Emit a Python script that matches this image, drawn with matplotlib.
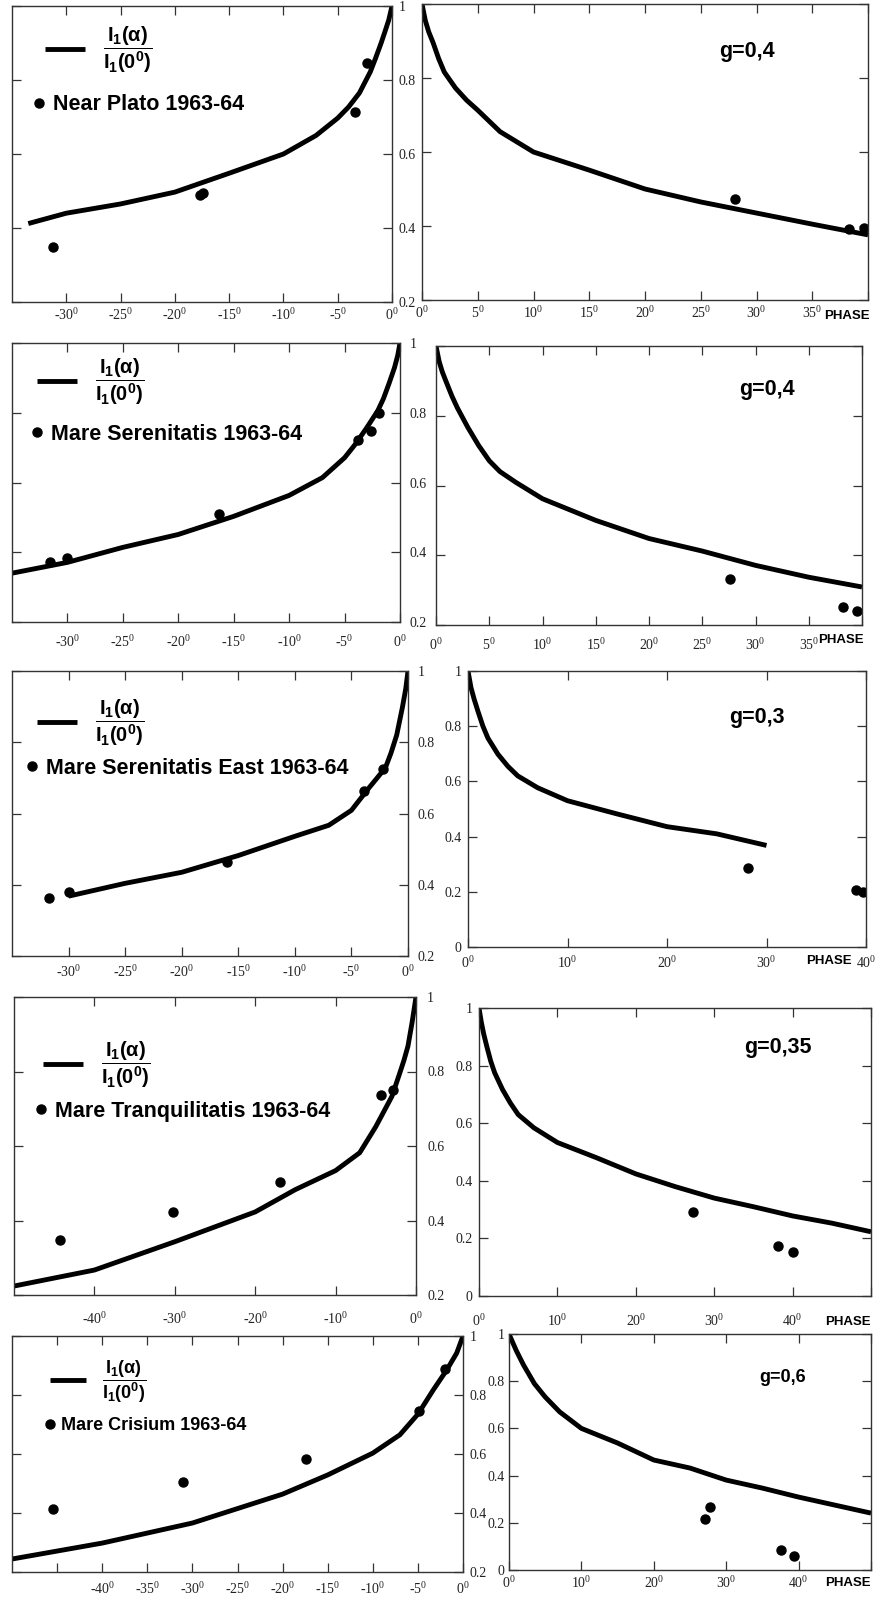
import matplotlib.pyplot as plt

plt.rcParams['font.family'] = ['Liberation Serif', 'DejaVu Serif']
plt.rcParams['mathtext.fontset'] = 'custom'
plt.rcParams['mathtext.rm'] = 'Liberation Serif'
plt.rcParams['mathtext.it'] = 'Liberation Serif:italic'
plt.rcParams['mathtext.bf'] = 'Liberation Sans:bold'

# ---- data ----
# row 1: Near Plato, g=0,4
plato_neg_x = [-33.5, -30, -25, -20, -15, -10, -7, -5, -4, -3, -2, -1.5, -1, -0.6, -0.3, 0]
plato_neg_y = [0.412, 0.44, 0.465, 0.497, 0.548, 0.60, 0.65, 0.697, 0.727, 0.765, 0.822,
               0.86, 0.90, 0.935, 0.962, 1.0]
plato_obs_neg_x = [-31.2, -17.7, -17.4, -3.4, -2.3]
plato_obs_neg_y = [0.348, 0.49, 0.495, 0.713, 0.845]
plato_pos_x = [0, 0.3, 0.6, 1, 1.5, 2, 3, 4, 5, 7, 10, 15, 20, 25, 30, 35, 40]
plato_pos_y = [1.0, 0.955, 0.925, 0.895, 0.852, 0.816, 0.773, 0.74, 0.713, 0.655, 0.60,
               0.551, 0.50, 0.465, 0.435, 0.405, 0.376]
plato_obs_pos_x = [28.1, 38.3, 39.6]
plato_obs_pos_y = [0.473, 0.392, 0.395]

# row 2: Mare Serenitatis, g=0,4
seren_neg_x = [-35, -30, -25, -20, -15, -10, -7, -5, -4, -3, -2, -1.5, -1, -0.5, -0.2, 0]
seren_neg_y = [0.34, 0.371, 0.414, 0.451, 0.503, 0.563, 0.614, 0.671, 0.711, 0.757, 0.806,
               0.84, 0.883, 0.929, 0.965, 1.0]
seren_obs_neg_x = [-31.6, -30, -16.3, -3.8, -2.6, -1.9]
seren_obs_neg_y = [0.371, 0.383, 0.511, 0.723, 0.749, 0.80]
seren_pos_x = [0, 0.3, 0.6, 1, 1.5, 2, 3, 4, 5, 6, 7.5, 10, 15, 20, 25, 30, 35, 40]
seren_pos_y = [1.0, 0.955, 0.925, 0.894, 0.856, 0.823, 0.766, 0.715, 0.671, 0.64, 0.609,
               0.562, 0.50, 0.448, 0.412, 0.371, 0.337, 0.309]
seren_obs_pos_x = [27.6, 38.2, 39.5]
seren_obs_pos_y = [0.331, 0.251, 0.24]

# row 3: Mare Serenitatis East, g=0,3
east_neg_x = [-30, -25, -20, -15, -10, -7, -5, -3.5, -2, -1.5, -1, -0.5, -0.2, 0]
east_neg_y = [0.368, 0.404, 0.435, 0.482, 0.536, 0.567, 0.609, 0.67, 0.728, 0.77, 0.82,
              0.897, 0.95, 1.0]
east_obs_neg_x = [-31.7, -30, -16.0, -3.85, -2.25]
east_obs_neg_y = [0.362, 0.379, 0.463, 0.664, 0.726]
east_pos_x = [0, 0.3, 0.6, 1, 1.5, 2, 3, 4, 5, 7, 10, 15, 20, 25, 30]
east_pos_y = [1.0, 0.94, 0.9, 0.854, 0.80, 0.757, 0.699, 0.655, 0.62, 0.577, 0.53, 0.482,
              0.436, 0.41, 0.368]
east_obs_pos_x = [28.1, 39.0, 39.7]
east_obs_pos_y = [0.285, 0.205, 0.198]

# row 4: Mare Tranquilitatis, g=0,35
tranq_neg_x = [-50, -40, -30, -20, -15, -10, -7, -5, -3, -2, -1.5, -1, -0.5, 0]
tranq_neg_y = [0.224, 0.267, 0.343, 0.423, 0.483, 0.534, 0.582, 0.652, 0.733, 0.797, 0.83,
               0.868, 0.93, 1.0]
tranq_obs_neg_x = [-44.25, -30.25, -16.9, -4.4, -2.9]
tranq_obs_neg_y = [0.348, 0.423, 0.504, 0.736, 0.749]
tranq_pos_x = [0, 0.3, 0.6, 1, 1.5, 2, 3, 4, 5, 7, 10, 15, 20, 25, 30, 35, 40, 45, 50]
tranq_pos_y = [1.0, 0.95, 0.91, 0.866, 0.815, 0.775, 0.717, 0.67, 0.63, 0.584, 0.533, 0.48,
               0.424, 0.38, 0.34, 0.31, 0.278, 0.253, 0.223]
tranq_obs_pos_x = [27.3, 38.2, 40.1]
tranq_obs_pos_y = [0.292, 0.174, 0.152]

# row 5: Mare Crisium, g=0,6
cris_neg_x = [-50, -40, -30, -20, -15, -10, -7, -5, -3.3, -1.8, -0.7, 0]
cris_neg_y = [0.244, 0.298, 0.366, 0.464, 0.529, 0.603, 0.665, 0.735, 0.817, 0.885, 0.942, 1.0]
cris_obs_neg_x = [-45.4, -31.0, -17.4, -4.85, -2.0]
cris_obs_neg_y = [0.414, 0.505, 0.583, 0.746, 0.888]
cris_pos_x = [0, 1, 2, 3.5, 5, 7, 10, 15, 20, 25, 30, 35, 40, 45, 50]
cris_pos_y = [1.0, 0.93, 0.869, 0.79, 0.733, 0.67, 0.60, 0.538, 0.466, 0.432, 0.381, 0.347,
              0.309, 0.275, 0.241]
cris_obs_pos_x = [27.1, 27.7, 37.6, 39.3]
cris_obs_pos_y = [0.216, 0.267, 0.085, 0.059]

names = ['Near Plato 1963-64', 'Mare Serenitatis 1963-64', 'Mare Serenitatis East 1963-64',
         'Mare Tranquilitatis 1963-64', 'Mare Crisium 1963-64']
g_labels = ['g=0,4', 'g=0,4', 'g=0,3', 'g=0,35', 'g=0,6']

neg_ticks = [[-30, -25, -20, -15, -10, -5, 0],
             [-30, -25, -20, -15, -10, -5, 0],
             [-30, -25, -20, -15, -10, -5, 0],
             [-40, -30, -20, -10, 0],
             [-45, -40, -35, -30, -25, -20, -15, -10, -5, 0]]
pos_ticks = [[0, 5, 10, 15, 20, 25, 30, 35, 40],
             [0, 5, 10, 15, 20, 25, 30, 35, 40],
             [0, 10, 20, 30, 40],
             [0, 10, 20, 30, 40, 50],
             [0, 10, 20, 30, 40, 50]]

rows = [
    (plato_neg_x, plato_neg_y, plato_obs_neg_x, plato_obs_neg_y,
     plato_pos_x, plato_pos_y, plato_obs_pos_x, plato_obs_pos_y),
    (seren_neg_x, seren_neg_y, seren_obs_neg_x, seren_obs_neg_y,
     seren_pos_x, seren_pos_y, seren_obs_pos_x, seren_obs_pos_y),
    (east_neg_x, east_neg_y, east_obs_neg_x, east_obs_neg_y,
     east_pos_x, east_pos_y, east_obs_pos_x, east_obs_pos_y),
    (tranq_neg_x, tranq_neg_y, tranq_obs_neg_x, tranq_obs_neg_y,
     tranq_pos_x, tranq_pos_y, tranq_obs_pos_x, tranq_obs_pos_y),
    (cris_neg_x, cris_neg_y, cris_obs_neg_x, cris_obs_neg_y,
     cris_pos_x, cris_pos_y, cris_obs_pos_x, cris_obs_pos_y),
]

# ---- layout (pixels in the 882x1600 figure) ----
W, H = 882, 1600
left_boxes = [(12, 6, 392, 302), (12, 343, 400, 622), (12, 671, 408, 956),
              (14, 997, 416, 1295), (12, 1336, 463, 1572)]
right_boxes = [(422, 4, 868, 300), (436, 346, 862, 625), (468, 671, 866, 947),
               (479, 1008, 871, 1296), (509, 1334, 871, 1570)]
left_xlim = [(-35, 0), (-35, 0), (-35, 0), (-50, 0), (-50, 0)]
right_xlim = [(0, 40), (0, 40), (0, 40), (0, 50), (0, 50)]
right_ylow = [0.2, 0.2, 0, 0, 0]
right_ylabels = [False, False, True, True, True]
ylab_pad_left = [4.5, 7, 7, 8, 5]
ylab_pad_right = [4.5, 4.5, 4.5, 4.5, 3]
xlab_pad_left = [4, 8.5, 6, 11.5, 6.5]
xlab_pad_right = [4, 8.5, 5.5, 12.5, 3.5]
legend_line = [(45, 50), (37, 382), (37, 723), (43, 1065), (50, 1382)]
legend_dot = [(34, 105), (32, 434), (27, 768), (36, 1111), (45, 1426)]
legend_size = [15.5, 15.5, 15.5, 15.5, 13]
frac_size = [14.5, 14.5, 14.5, 14.5, 13]
g_pos = [(747, 52), (767, 390), (757, 718), (778, 1048), (783, 1377)]
g_size = [15.5, 15.5, 15.5, 15.5, 13]
phase_pos = [(870, 316), (864, 640), (852, 961), (871, 1322), (871, 1583)]

fig = plt.figure(figsize=(W / 100, H / 100), dpi=100)


def fig_xy(x, y):
    return x / W, 1 - y / H


def add_panel(box):
    x0, y0, x1, y1 = box
    return fig.add_axes([x0 / W, 1 - y1 / H, (x1 - x0) / W, (y1 - y0) / H])


def deg(v):
    return f'{v}$^{{0}}$'


def style(ax):
    for s in ax.spines.values():
        s.set_color('#333333')
        s.set_linewidth(1.0)
    ax.tick_params(direction='in', length=6.5, width=0.9, color='#333333',
                   top=True, right=True, labelsize=10, labelcolor='#222222')


def ytick_labels(ticks):
    return ['1' if t == 1 else ('0' if t == 0 else f'{t:.1f}') for t in ticks]


sans_bold = {'family': 'Liberation Sans', 'weight': 'bold'}
frac = r'$\dfrac{\mathbf{I_1(\alpha)}}{\mathbf{I_1(0^0)}}$'

for i, (nx, ny, onx, ony, px, py, opx, opy) in enumerate(rows):
    # left panel (negative phase)
    ax = add_panel(left_boxes[i])
    line, = ax.plot(nx, ny, color='black', lw=3.5, solid_capstyle='butt',
                    solid_joinstyle='round')
    dots, = ax.plot(onx, ony, 'o', color='black', ms=6.5, linestyle='none')
    ax.set_xlim(*left_xlim[i])
    ax.set_ylim(0.2, 1.0)
    style(ax)
    ax.set_xticks(neg_ticks[i])
    ax.set_xticklabels(['' if t == -45 else deg(t) for t in neg_ticks[i]])
    yt = [0.2, 0.4, 0.6, 0.8, 1.0]
    ax.set_yticks(yt)
    ax.set_yticklabels(ytick_labels(yt))
    ax.tick_params(axis='y', labelleft=False, labelright=True, pad=ylab_pad_left[i])
    ax.tick_params(axis='x', pad=xlab_pad_left[i])

    lx, ly = legend_line[i]
    leg1 = ax.legend([line], [frac], loc='center left', bbox_to_anchor=fig_xy(lx, ly),
                     bbox_transform=fig.transFigure, frameon=False, borderpad=0,
                     borderaxespad=0, handlelength=2.0, handletextpad=0.9,
                     prop=dict(sans_bold, size=frac_size[i]))
    ax.add_artist(leg1)
    dx, dy = legend_dot[i]
    ax.legend([dots], [names[i]], loc='center left', bbox_to_anchor=fig_xy(dx, dy),
              bbox_transform=fig.transFigure, frameon=False, borderpad=0,
              borderaxespad=0, handlelength=0.5, handletextpad=0.4, numpoints=1,
              prop=dict(sans_bold, size=legend_size[i]))

    # right panel (positive phase)
    ax = add_panel(right_boxes[i])
    ax.plot(px, py, color='black', lw=3.5, solid_capstyle='butt', solid_joinstyle='round')
    ax.plot(opx, opy, 'o', color='black', ms=6.5, linestyle='none')
    ax.set_xlim(*right_xlim[i])
    ax.set_ylim(right_ylow[i], 1.0)
    style(ax)
    ax.set_xticks(pos_ticks[i])
    if i in (0, 1, 3, 4):
        ax.set_xticklabels([deg(t) for t in pos_ticks[i][:-1]] + [''])
    else:
        ax.set_xticklabels([deg(t) for t in pos_ticks[i]])
    yt = [0.2, 0.4, 0.6, 0.8, 1.0] if right_ylow[i] == 0.2 else [0, 0.2, 0.4, 0.6, 0.8, 1.0]
    ax.set_yticks(yt)
    ax.set_yticklabels(ytick_labels(yt))
    ax.tick_params(axis='y', labelleft=right_ylabels[i], labelright=False,
                   pad=ylab_pad_right[i])
    ax.tick_params(axis='x', pad=xlab_pad_right[i])

    gx, gy = g_pos[i]
    fig.text(*fig_xy(gx, gy), g_labels[i], ha='center', va='center',
             size=g_size[i], **sans_bold)
    phx, phy = phase_pos[i]
    fig.text(*fig_xy(phx, phy), 'PHASE', ha='right', va='center', size=9.5, **sans_bold)

fig.savefig('out.png', dpi=100)
